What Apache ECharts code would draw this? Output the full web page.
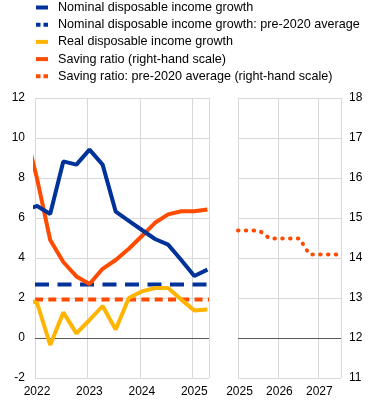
<!DOCTYPE html>
<html>
<head>
<meta charset="utf-8">
<script src="https://cdn.jsdelivr.net/npm/echarts@6/dist/echarts.min.js"></script>
<style>
html,body{margin:0;padding:0;background:#fff;}
#chart{width:371px;height:406px;}
</style>
</head>
<body>
<div id="chart"></div>
<script>
// Quarterly time positions (years), historical panel
const histQuarters = [2021.79, 2022.04, 2022.29, 2022.54, 2022.79, 2023.04, 2023.29, 2023.54, 2023.79, 2024.04, 2024.29, 2024.54, 2024.79, 2025.04, 2025.29];
// Nominal disposable income growth (% y-o-y, left scale)
const nominalGrowth = [6.4, 6.6, 6.2, 8.83, 8.67, 9.42, 8.67, 6.32, 5.86, 5.4, 4.95, 4.67, 3.9, 3.1, 3.42];
// Real disposable income growth (% y-o-y, left scale)
const realGrowth = [2.0, 1.75, -0.35, 1.28, 0.23, 0.9, 1.6, 0.42, 2.0, 2.33, 2.5, 2.5, 1.92, 1.38, 1.42];
// Saving ratio (% of disposable income, right scale)
const savingRatio = [17.3, 15.98, 14.45, 13.9, 13.54, 13.35, 13.73, 13.95, 14.23, 14.55, 14.88, 15.09, 15.17, 15.17, 15.21];
// Pre-2020 averages
const nominalPre2020Avg = 2.68;
const savingPre2020Avg = 12.96;
// Projection panel: saving ratio (right scale)
const projQuarters = [2025.0, 2025.29, 2025.54, 2025.79, 2026.04, 2026.29, 2026.54, 2026.79, 2027.04, 2027.29, 2027.58];
const savingProjection = [14.69, 14.69, 14.68, 14.49, 14.49, 14.49, 14.49, 14.09, 14.09, 14.09, 14.09];
// Axis settings
const histRange = [2022, 2025.32];
const projRange = [2025, 2027.58];
const leftScale = [-2, 12, 2];
const rightScale = [11, 18, 1];

const names = [
  'Nominal disposable income growth',
  'Nominal disposable income growth: pre-2020 average',
  'Real disposable income growth',
  'Saving ratio (right-hand scale)',
  'Saving ratio: pre-2020 average (right-hand scale)'
];
const BLUE = '#003299', YELLOW = '#ffb400', ORANGE = '#ff4b00';
const FONT = 'Liberation Sans, Arial, sans-serif';
const zip = (xs, ys) => xs.map((x, i) => [x, ys[i]]);

const gridLine = {show: true, lineStyle: {color: '#d9d9d9', width: 1}};
const axisLabel = {color: '#000', fontSize: 12, fontFamily: FONT};
const yearFmt = v => (Math.abs(v - Math.round(v)) < 1e-6 ? String(Math.round(v)) : '');

const chart = echarts.init(document.getElementById('chart'), null, {renderer: 'canvas'});
chart.setOption({
  animation: false,
  backgroundColor: '#fff',
  legend: {
    orient: 'vertical', left: 36, top: 1, padding: 0,
    itemWidth: 12, itemHeight: 12, itemGap: 4.2,
    textStyle: {color: '#000', fontSize: 12.6, fontFamily: FONT, lineHeight: 12, padding: [0, 0, 0, 5]},
    data: [
      {name: names[0], icon: 'path://M0,0L12,0L12,4L0,4Z', itemStyle: {color: BLUE}},
      {name: names[1], icon: 'path://M0,0L4.5,0L4.5,4L0,4ZM7.5,0L12,0L12,4L7.5,4Z', itemStyle: {color: BLUE}},
      {name: names[2], icon: 'path://M0,0L12,0L12,4L0,4Z', itemStyle: {color: YELLOW}},
      {name: names[3], icon: 'path://M0,0L12,0L12,4L0,4Z', itemStyle: {color: ORANGE}},
      {name: names[4], icon: 'path://M0,0L4.5,0L4.5,4L0,4ZM7.5,0L12,0L12,4L7.5,4Z', itemStyle: {color: ORANGE}}
    ]
  },
  grid: [
    {left: 35, top: 98, width: 174, height: 280},
    {left: 238, top: 98, width: 103, height: 280}
  ],
  xAxis: [
    {type: 'value', gridIndex: 0, min: histRange[0], max: histRange[1], interval: 1,
     axisLine: {show: false}, axisTick: {show: false}, splitLine: gridLine,
     axisLabel: Object.assign({formatter: yearFmt, margin: 8, showMaxLabel: false, padding: [0, 0, 0, 4]}, axisLabel)},
    {type: 'value', gridIndex: 1, min: projRange[0], max: projRange[1], interval: 1,
     axisLine: {show: false}, axisTick: {show: false}, splitLine: gridLine,
     axisLabel: Object.assign({formatter: yearFmt, margin: 8, showMaxLabel: false, padding: [0, 0, 0, 3]}, axisLabel)}
  ],
  yAxis: [
    {type: 'value', gridIndex: 0, position: 'left', min: leftScale[0], max: leftScale[1], interval: leftScale[2],
     axisLine: {show: false}, axisTick: {show: false}, splitLine: gridLine,
     axisLabel: Object.assign({margin: 10}, axisLabel)},
    {type: 'value', gridIndex: 0, position: 'right', min: rightScale[0], max: rightScale[1], interval: rightScale[2],
     show: false, splitLine: {show: false}},
    {type: 'value', gridIndex: 1, position: 'right', min: rightScale[0], max: rightScale[1], interval: rightScale[2],
     axisLine: {show: false}, axisTick: {show: false}, splitLine: gridLine,
     axisLabel: Object.assign({margin: 8}, axisLabel)}
  ],
  series: [
    {name: names[1], type: 'line', xAxisIndex: 0, yAxisIndex: 0, symbol: 'none', silent: true,
     data: [[histRange[0], nominalPre2020Avg], [histRange[1], nominalPre2020Avg]],
     lineStyle: {color: BLUE, width: 4, type: [14, 8.5]}, itemStyle: {color: BLUE}, z: 3,
     markLine: {silent: true, symbol: 'none', label: {show: false},
       lineStyle: {color: '#595959', width: 1, type: 'solid'}, data: [{yAxis: 0}], z: 1}},
    {name: names[4], type: 'line', xAxisIndex: 0, yAxisIndex: 1, symbol: 'none', silent: true,
     data: [[histRange[0], savingPre2020Avg], [histRange[1], savingPre2020Avg]],
     lineStyle: {color: ORANGE, width: 4, type: [8, 5.3]}, itemStyle: {color: ORANGE}, z: 3},
    {name: names[2], type: 'line', xAxisIndex: 0, yAxisIndex: 0, symbol: 'none', clip: true,
     data: zip(histQuarters, realGrowth),
     lineStyle: {color: YELLOW, width: 4}, itemStyle: {color: YELLOW}, z: 4},
    {name: names[3], type: 'line', xAxisIndex: 0, yAxisIndex: 1, symbol: 'none', clip: true,
     data: zip(histQuarters, savingRatio),
     lineStyle: {color: ORANGE, width: 4}, itemStyle: {color: ORANGE}, z: 5},
    {name: names[0], type: 'line', xAxisIndex: 0, yAxisIndex: 0, symbol: 'none', clip: true,
     data: zip(histQuarters, nominalGrowth),
     lineStyle: {color: BLUE, width: 4}, itemStyle: {color: BLUE}, z: 6},
    {name: 'Saving ratio projection', type: 'line', xAxisIndex: 1, yAxisIndex: 2, symbol: 'none', clip: true,
     data: zip(projQuarters, savingProjection),
     lineStyle: {color: ORANGE, width: 4, type: [0.5, 7.3], cap: 'round'}, itemStyle: {color: ORANGE}, z: 5,
     markLine: {silent: true, symbol: 'none', label: {show: false},
       lineStyle: {color: '#595959', width: 1, type: 'solid'}, data: [{yAxis: 12}], z: 1}}
  ]
});
</script>
</body>
</html>
